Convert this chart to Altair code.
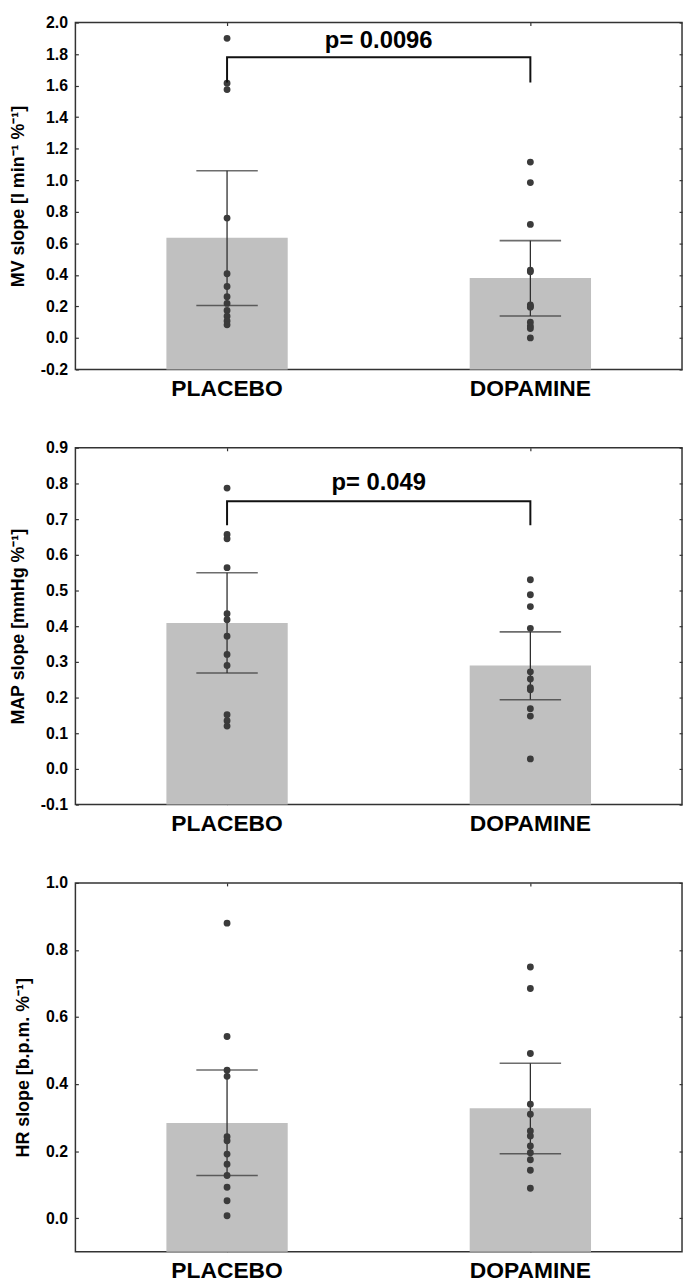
import altair as alt
import pandas as pd

GROUPS = ["PLACEBO", "DOPAMINE"]

# ---- Panel 1: MV slope ----
MV_TITLE = "MV slope [l min⁻¹ %⁻¹]"
MV_DOMAIN = [-0.2, 2.0]
MV_TICKS = [-0.2, 0.0, 0.2, 0.4, 0.6, 0.8, 1.0, 1.2, 1.4, 1.6, 1.8, 2.0]
MV_PLACEBO = [1.90, 1.615, 1.575, 0.76, 0.407, 0.326, 0.261, 0.219, 0.174, 0.138, 0.108, 0.083]
MV_DOPAMINE = [1.115, 0.985, 0.72, 0.43, 0.42, 0.21, 0.20, 0.195, 0.10, 0.075, 0.06, 0.0]
MV_MEAN = [0.635, 0.38]
MV_LOW = [0.206, 0.139]
MV_HIGH = [1.06, 0.617]
MV_BRACKET = [1.62, 1.78]
MV_P = "p= 0.0096"
MV_P_Y = 1.88

# ---- Panel 2: MAP slope ----
MAP_TITLE = "MAP slope [mmHg %⁻¹]"
MAP_DOMAIN = [-0.1, 0.9]
MAP_TICKS = [-0.1, 0.0, 0.1, 0.2, 0.3, 0.4, 0.5, 0.6, 0.7, 0.8, 0.9]
MAP_PLACEBO = [0.787, 0.657, 0.645, 0.564, 0.435, 0.418, 0.372, 0.321, 0.290, 0.152, 0.135, 0.120]
MAP_DOPAMINE = [0.530, 0.488, 0.455, 0.394, 0.272, 0.252, 0.228, 0.222, 0.169, 0.148, 0.028]
MAP_MEAN = [0.409, 0.290]
MAP_LOW = [0.269, 0.194]
MAP_HIGH = [0.550, 0.384]
MAP_BRACKET = [0.683, 0.75]
MAP_P = "p= 0.049"
MAP_P_Y = 0.80

# ---- Panel 3: HR slope ----
HR_TITLE = "HR slope [b.p.m. %⁻¹]"
HR_DOMAIN = [-0.1, 1.0]
HR_TICKS = [0.0, 0.2, 0.4, 0.6, 0.8, 1.0]
HR_PLACEBO = [0.880, 0.542, 0.441, 0.423, 0.243, 0.231, 0.191, 0.161, 0.127, 0.092, 0.052, 0.007]
HR_DOPAMINE = [0.749, 0.685, 0.491, 0.340, 0.310, 0.260, 0.245, 0.215, 0.195, 0.174, 0.143, 0.089]
HR_MEAN = [0.284, 0.328]
HR_LOW = [0.127, 0.192]
HR_HIGH = [0.442, 0.462]

W = 612
FONT = "Liberation Sans"
DARK = "#2f2f2f"
LABEL_EXPR = "(datum.value < 0 ? '-' : '') + format(abs(datum.value), '.1f')"


def panel(title, domain, ticks, placebo, dopamine, mean, low, high, height,
          bracket=None, ptext=None, p_y=None):
    xscale = alt.Scale(domain=GROUPS, paddingInner=0.6, paddingOuter=0.3)
    yscale = alt.Scale(domain=domain, nice=False, zero=False)

    summary = pd.DataFrame({"group": GROUPS, "mean": mean, "low": low, "high": high})
    caps = pd.DataFrame({"group": GROUPS * 2, "v": list(low) + list(high)})
    dots = pd.DataFrame({
        "group": ["PLACEBO"] * len(placebo) + ["DOPAMINE"] * len(dopamine),
        "v": list(placebo) + list(dopamine),
    })

    bars = alt.Chart(summary).mark_bar(color="#c0c0c0").encode(
        x=alt.X("group:N", scale=xscale, sort=GROUPS,
                axis=alt.Axis(orient="bottom", title=None, labelAngle=0, offset=-3,
                              tickSize=3, domain=False, labelPadding=8,
                              labelFontSize=23, labelColor="#000")),
        y=alt.Y("mean:Q", scale=yscale,
                axis=alt.Axis(orient="left", title=title, values=ticks, offset=-3,
                              tickSize=3, domain=False, labelPadding=8,
                              labelExpr=LABEL_EXPR, titlePadding=13)),
        y2=alt.datum(domain[0]),
    )

    rules = alt.Chart(summary).mark_rule(color=DARK, strokeWidth=1.3).encode(
        x=alt.X("group:N", scale=xscale, sort=GROUPS,
                axis=alt.Axis(orient="top", title=None, labels=False, offset=-3,
                              tickSize=3, domain=False)),
        y=alt.Y("low:Q", scale=yscale,
                axis=alt.Axis(orient="right", title=None, labels=False, values=ticks,
                              offset=-3, tickSize=3, domain=False)),
        y2="high:Q",
    )

    capmarks = alt.Chart(caps).mark_tick(color=DARK, thickness=1.6, size=62,
                                         orient="horizontal").encode(
        x=alt.X("group:N", scale=xscale, sort=GROUPS, axis=None),
        y=alt.Y("v:Q", scale=yscale, axis=None),
    )

    points = alt.Chart(dots).mark_circle(size=48, color="#3b3b3b", opacity=1).encode(
        x=alt.X("group:N", scale=xscale, sort=GROUPS, axis=None),
        y=alt.Y("v:Q", scale=yscale, axis=None),
    )

    layers = [bars, rules, capmarks, points]

    if bracket is not None:
        br = pd.DataFrame({
            "group": ["PLACEBO", "PLACEBO", "DOPAMINE", "DOPAMINE"],
            "v": [bracket[0], bracket[1], bracket[1], bracket[0]],
            "ord": [0, 1, 2, 3],
        })
        line = alt.Chart(br).mark_line(color="#111111", strokeWidth=2).encode(
            x=alt.X("group:N", scale=xscale, sort=GROUPS, axis=None),
            y=alt.Y("v:Q", scale=yscale, axis=None),
            order=alt.Order("ord:Q"),
        )
        txt = alt.Chart(pd.DataFrame({"label": [ptext], "v": [p_y]})).mark_text(
            font=FONT, fontSize=24, fontWeight="bold", color="#000",
            baseline="middle", align="center",
        ).encode(
            x=alt.value(W / 2),
            y=alt.Y("v:Q", scale=yscale, axis=None),
            text="label:N",
        )
        layers += [line, txt]

    return alt.layer(*layers).resolve_axis(x="independent", y="independent").properties(
        width=W, height=height)


p1 = panel(MV_TITLE, MV_DOMAIN, MV_TICKS, MV_PLACEBO, MV_DOPAMINE, MV_MEAN, MV_LOW,
           MV_HIGH, 350, MV_BRACKET, MV_P, MV_P_Y)
p2 = panel(MAP_TITLE, MAP_DOMAIN, MAP_TICKS, MAP_PLACEBO, MAP_DOPAMINE, MAP_MEAN,
           MAP_LOW, MAP_HIGH, 360, MAP_BRACKET, MAP_P, MAP_P_Y)
p3 = panel(HR_TITLE, HR_DOMAIN, HR_TICKS, HR_PLACEBO, HR_DOPAMINE, HR_MEAN, HR_LOW,
           HR_HIGH, 372)

chart = alt.vconcat(p1, p2, p3, spacing=38).properties(
    padding={"left": 0, "top": 0, "right": 0, "bottom": 0}
).configure_view(
    stroke="#333333", strokeWidth=1.5
).configure_axis(
    grid=False, labelFont=FONT, labelFontWeight="bold", labelFontSize=16,
    labelColor="#000", tickColor="#333333", tickWidth=1.2,
    titleFont=FONT, titleFontWeight="bold", titleFontSize=18, titleColor="#000",
)

chart.save("out.html", embed_options={"renderer": "svg", "actions": False})
